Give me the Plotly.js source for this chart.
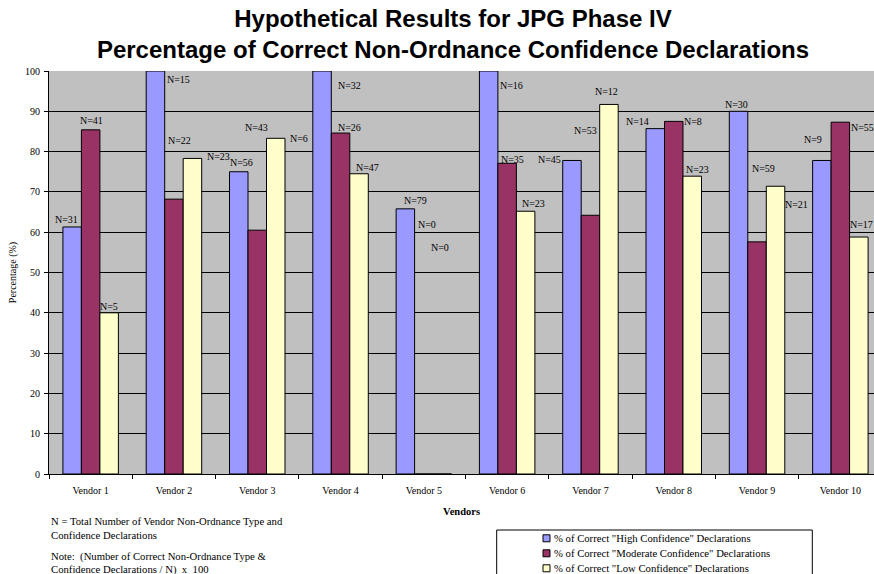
<!DOCTYPE html>
<html>
<head>
<meta charset="utf-8">
<script src="https://cdn.plot.ly/plotly-3.0.1.min.js"></script>
<style>
  html, body { margin: 0; padding: 0; background: #ffffff; }
  #chart { width: 874px; height: 574px; }
</style>
</head>
<body>
<div id="chart"></div>
<script>
// ---------------- data ----------------
const vendors = ["Vendor 1", "Vendor 2", "Vendor 3", "Vendor 4", "Vendor 5",
                 "Vendor 6", "Vendor 7", "Vendor 8", "Vendor 9", "Vendor 10"];
const highPct     = [61.3, 100, 75.0, 100, 65.8, 100, 77.8, 85.7, 90.0, 77.8];
const moderatePct = [85.4, 68.2, 60.5, 84.6, 0, 77.1, 64.2, 87.5, 57.6, 87.3];
const lowPct      = [40.0, 78.3, 83.3, 74.5, 0, 65.2, 91.7, 73.9, 71.4, 58.8];
const highN     = [31, 15, 56, 32, 79, 16, 45, 14, 30, 9];
const moderateN = [41, 22, 43, 26, 0, 35, 53, 8, 59, 55];
const lowN      = [5, 23, 6, 47, 0, 23, 12, 23, 21, 17];
const seriesNames = [
  '% of Correct "High Confidence" Declarations',
  '% of Correct "Moderate Confidence" Declarations',
  '% of Correct "Low Confidence" Declarations'
];
const yTicks = [0, 10, 20, 30, 40, 50, 60, 70, 80, 90, 100];
const noteLines = [
  "N = Total Number of Vendor Non-Ordnance Type and",
  "Confidence Declarations",
  "Note:  (Number of Correct Non-Ordnance Type &",
  "Confidence Declarations / N)  x  100"
];

// ---------------- styling / label placement (pixels) ----------------
const colors = ["#9999FF", "#993366", "#FFFFCC"];
const labelShift = [
  { dx: [-6, 23, 3, 27, 10, 23, -22, -18, -2, -9], dy: [7, -8, 9, -14, 8, -14, 1, 7, 7, 21] },
  { dx: [1, 6, -1, 9, 3, 5, -5, 19, 6, 22],        dy: [9, 59, 103, 6, 250, 4, 85, 0, 73, -5] },
  { dx: [0, 26, 23, 8, -2, 8, -2, 5, 21, 3],       dy: [6, 2, 0, 6, 227, 8, 13, 7, -18, 13] }
];

const W = 874, H = 574;
const M = { l: 49, r: 0, t: 71, b: 100 };
const plotW = W - M.l - M.r, plotH = H - M.t - M.b;
const px = x => (x - M.l) / plotW;
const py = y => (H - M.b - y) / plotH;

const serif = "Liberation Serif, Times New Roman, serif";
const bargap = 0.334;
const barW = (1 - bargap) / 3;

const values = [highPct, moderatePct, lowPct];
const counts = [highN, moderateN, lowN];

const traces = values.map((v, s) => ({
  type: "bar",
  name: seriesNames[s],
  x: vendors,
  y: v,
  marker: { color: colors[s], line: { color: "#000000", width: 1 } },
  showlegend: false,
  hoverinfo: "x+y+name"
}));

const annotations = [];
values.forEach((v, s) => {
  v.forEach((val, i) => {
    annotations.push({
      x: i + (s - 1) * barW, y: val, xref: "x", yref: "y",
      text: "N=" + counts[s][i], showarrow: false,
      xanchor: "center", yanchor: "middle",
      xshift: labelShift[s].dx[i], yshift: labelShift[s].dy[i],
      font: { family: serif, size: 10, color: "#000000" }
    });
  });
});

// notes (bottom-left)
const noteY = [521, 535, 556, 569.5];
noteLines.forEach((t, k) => {
  annotations.push({
    x: px(49), y: py(noteY[k]), xref: "paper", yref: "paper",
    text: t, showarrow: false, xanchor: "left", yanchor: "middle",
    font: { family: serif, size: 10.7, color: "#000000" }
  });
});

// manual legend
const legRowY = [538.3, 553.3, 568.3];
const shapes = [{
  type: "rect", xref: "paper", yref: "paper",
  x0: px(496.7), x1: px(812.3), y0: py(530), y1: py(600),
  line: { color: "#000000", width: 1 }, fillcolor: "rgba(0,0,0,0)"
}];
seriesNames.forEach((name, s) => {
  shapes.push({
    type: "rect", xref: "paper", yref: "paper",
    x0: px(543), x1: px(550), y0: py(legRowY[s] + 3.5), y1: py(legRowY[s] - 3.5),
    line: { color: "#000000", width: 1 }, fillcolor: colors[s]
  });
  annotations.push({
    x: px(551.5), y: py(legRowY[s]), xref: "paper", yref: "paper",
    text: name, showarrow: false, xanchor: "left", yanchor: "middle",
    font: { family: serif, size: 10.7, color: "#000000" }
  });
});

const layout = {
  width: W, height: H,
  margin: M,
  paper_bgcolor: "#ffffff",
  plot_bgcolor: "#C0C0C0",
  barmode: "group",
  bargap: bargap,
  bargroupgap: 0,
  showlegend: false,
  title: {
    text: "Hypothetical Results for JPG Phase IV<br>Percentage of Correct Non-Ordnance Confidence Declarations",
    font: { family: "Liberation Sans, Arial, sans-serif", size: 24, color: "#000000", weight: "bold" },
    xref: "container", x: 453 / W, xanchor: "center",
    yref: "container", y: 1 - 27 / H, yanchor: "top"
  },
  xaxis: {
    type: "category",
    range: [-0.5, 9.404],
    tickson: "boundaries",
    ticks: "outside", ticklen: 4, tickcolor: "#000000", tickwidth: 1,
    ticklabelstandoff: 7,
    showline: true, linecolor: "#000000", linewidth: 1,
    showgrid: false, zeroline: false,
    tickfont: { family: serif, size: 10, color: "#000000" },
    automargin: false,
    title: { text: "Vendors", standoff: 12,
             font: { family: serif, size: 10.5, color: "#000000", weight: "bold" } },
    fixedrange: true
  },
  yaxis: {
    range: [0, 100],
    tickvals: yTicks,
    ticks: "outside", ticklen: 4, tickcolor: "#000000", tickwidth: 1,
    ticklabelstandoff: 2,
    showline: true, linecolor: "#000000", linewidth: 1,
    showgrid: true, gridcolor: "#000000", gridwidth: 1,
    zeroline: false,
    tickfont: { family: serif, size: 10, color: "#000000" },
    automargin: false,
    title: { text: "Percentage (%)", standoff: 6,
             font: { family: serif, size: 10, color: "#000000" } },
    fixedrange: true
  },
  annotations: annotations,
  shapes: shapes
};

Plotly.newPlot("chart", traces, layout, { displayModeBar: false, staticPlot: true });
</script>
</body>
</html>
